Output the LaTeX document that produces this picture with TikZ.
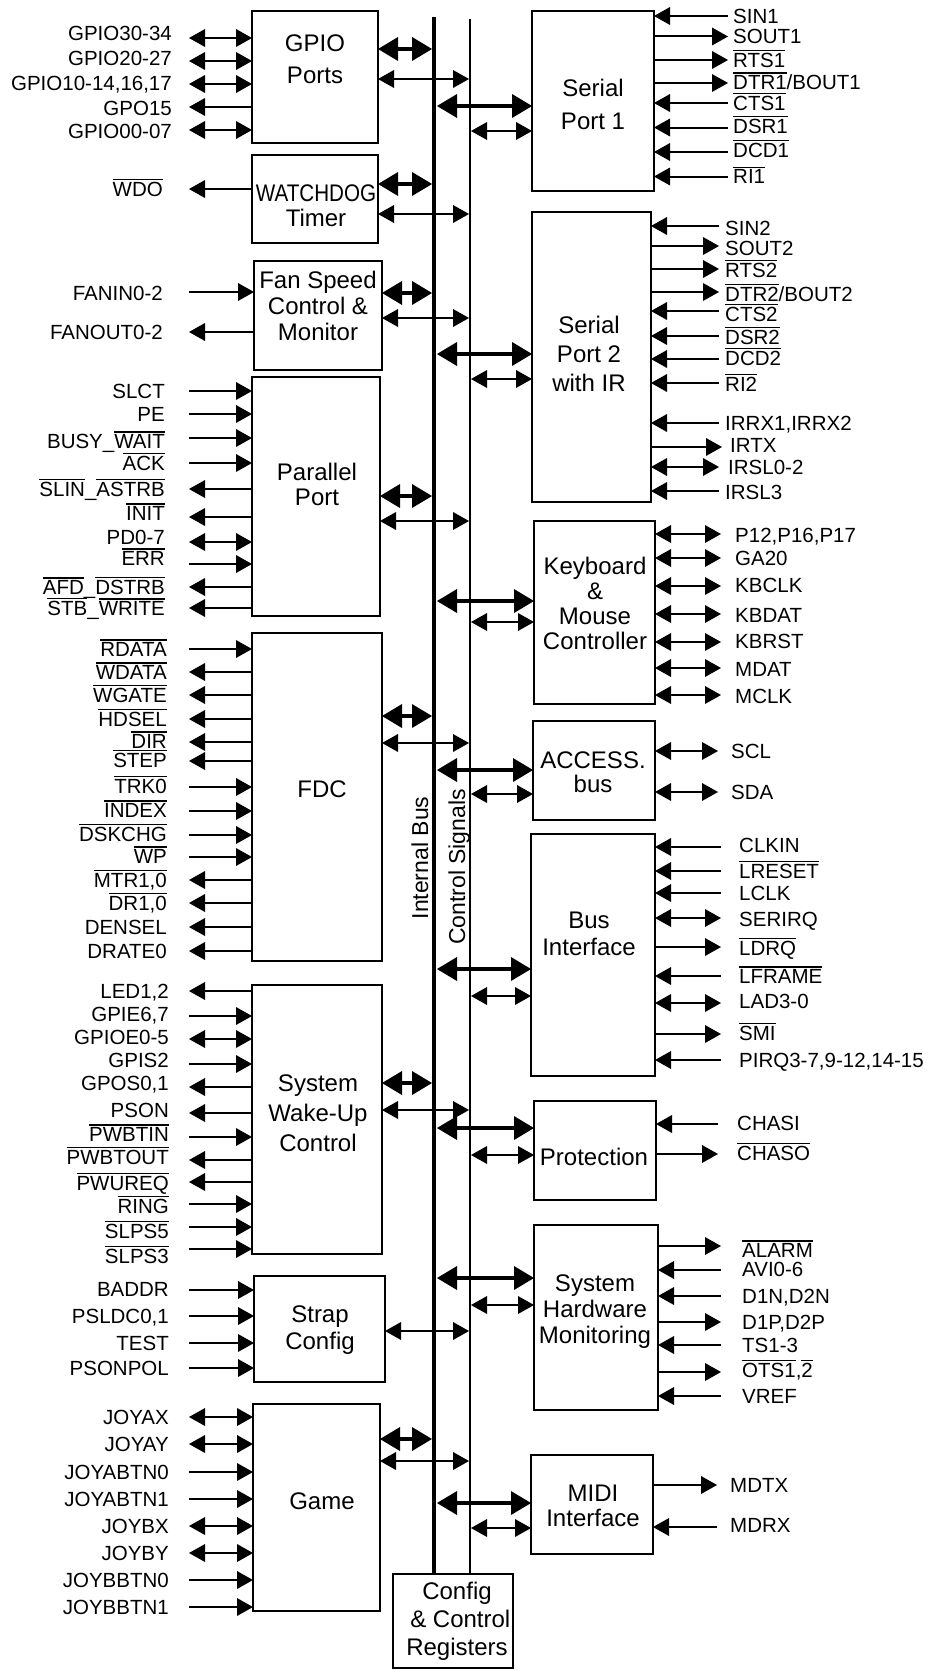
\documentclass[tikz,border=0pt]{standalone}
\usepackage{fontspec}
\setmainfont{Liberation Sans}
\usepackage{graphicx}
\usetikzlibrary{arrows.meta}
\newcommand\ovl[1]{\leavevmode\vbox{\hrule height 1.3pt\kern1.6pt\hbox{#1}}}
\newcommand\lfont{\fontsize{20.5}{24}\selectfont}
\newcommand\bfont{\fontsize{24}{30}\selectfont}
\newcommand\LX{172}
\newcommand\RX{733}
\newcommand\RE{728}
\tikzset{
  Tn/.tip={Triangle[length=16pt,width=18pt,line width=0pt]},
  Tk/.tip={Triangle[length=20pt,width=24pt,line width=0pt]},
  sig/.style={line width=2pt},
  Lin/.style={sig,-{Tn}},
  Lout/.style={sig,{Tn}-},
  Rin/.style={sig,{Tn}-},
  Rout/.style={sig,-{Tn}},
  Bi/.style={sig,{Tn}-{Tn}},
  Thk/.style={line width=4.7pt,{Tk}-{Tk}},
  blkbox/.style={draw,line width=2.5pt,inner sep=0pt,outer sep=0pt},
  btxt/.style={font=\bfont,align=center,inner sep=0pt},
  lblL/.style={font=\lfont,inner sep=0pt,anchor=base east},
  lblR/.style={font=\lfont,inner sep=0pt,anchor=base west},
  vtxt/.style={font=\fontsize{23}{26}\selectfont,inner sep=0pt,rotate=90,anchor=base},
}
\newcommand\mkblk[5]{\node[blkbox,minimum width={(#4)-(#2)},minimum height={(#5)-(#3)}] (#1) at ({((#2)+(#4))/2},{((#3)+(#5))/2}) {};}
\newcommand\Lsig[6]{%
  \node[lblL] (#1) at (\LX,{(#3)+7.3}) {#6};
  \coordinate (#1c) at (189,#4);
  \draw[#5] (#1c) -- (#1c -| #2.west);}
\newcommand\Rsig[6]{%
  \node[lblR] (#1) at (\RX,{(#3)+7.3}) {#6};
  \coordinate (#1c) at (\RE,#4);
  \draw[#5] (#1c -| #2.east) -- (#1c);}
\newcommand\Lbus[3]{%
  \draw[Thk] (#1.east |- 0,#2) -- (busL |- 0,#2);
  \draw[Bi] (#1.east |- 0,#3) -- (ctlL |- 0,#3);}
\newcommand\Rbus[3]{%
  \draw[Thk] (busR |- 0,#2) -- (#1.west |- 0,#2);
  \draw[Bi] (ctlR |- 0,#3) -- (#1.west |- 0,#3);}
\begin{document}
\begin{tikzpicture}[x=1pt,y=-1pt]
\useasboundingbox (0,0) rectangle (930,1670);
% blocks
\mkblk{gpio}{252}{11}{378}{143}
\mkblk{wdt}{252}{155}{378}{243}
\mkblk{fan}{254}{261}{382}{370}
\mkblk{par}{252}{377}{380}{616}
\mkblk{fdc}{252}{633}{382}{961}
\mkblk{wake}{252}{985}{382}{1254}
\mkblk{strap}{254}{1276}{385}{1382}
\mkblk{game}{253}{1404}{380}{1611}
\mkblk{cfg}{393}{1574}{513}{1668}
\mkblk{sp1}{532}{11}{654}{191}
\mkblk{sp2}{532}{212}{651}{502}
\mkblk{kbc}{534}{521}{655}{704}
\mkblk{acb}{533}{721}{655}{820}
\mkblk{bif}{531}{834}{655}{1076}
\mkblk{prot}{534}{1101}{656}{1200}
\mkblk{hwm}{534}{1225}{658}{1410}
\mkblk{midi}{531}{1455}{653}{1554}
% block texts
\node[btxt,font={\fontsize{24}{32}\selectfont}] (gpiot) at (315,59) {GPIO\\Ports};
\node[btxt,font={\fontsize{24}{25}\selectfont}] (wdtt) at (316,206) {\scalebox{0.86}[1]{WATCHDOG}\\Timer};
\node[btxt,font={\fontsize{24}{26}\selectfont}] (fant) at (318,306) {Fan Speed\\Control \&\\Monitor};
\node[btxt,font={\fontsize{24}{25}\selectfont}] (part) at (317,484) {Parallel\\Port};
\node[btxt] (fdct) at (322,789) {FDC};
\node[btxt] (waket) at (318,1113) {System\\Wake-Up\\Control};
\node[btxt,font={\fontsize{24}{27}\selectfont}] (strapt) at (320,1330) {Strap\\Config};
\node[btxt] (gamet) at (322,1501) {Game};
\node[btxt,font={\fontsize{24}{28}\selectfont}] (cfgt) at (457,1621) {Config\\\ \& Control\\Registers};
\node[btxt,font={\fontsize{24}{33}\selectfont}] (sp1t) at (593,104) {Serial\\Port 1};
\node[btxt,font={\fontsize{24}{29}\selectfont}] (sp2t) at (589,354) {Serial\\Port 2\\with IR};
\node[btxt,font={\fontsize{24}{25}\selectfont}] (kbct) at (595,603) {Keyboard\\\&\\Mouse\\Controller};
\node[btxt,font={\fontsize{24}{24}\selectfont}] (acbt) at (593,772) {ACCESS.\\bus};
\node[btxt,font={\fontsize{24}{27}\selectfont}] (bift) at (589,934) {Bus\\Interface};
\node[btxt] (prott) at (594,1157) {Protection};
\node[btxt,font={\fontsize{24}{26}\selectfont}] (hwmt) at (595,1312) {System\\Hardware\\Monitoring};
\node[btxt,font={\fontsize{24}{25}\selectfont}] (midit) at (593,1506) {MIDI\\Interface};
% buses
\coordinate (ibtop) at (434,17);
\coordinate (cstop) at (470,19);
\coordinate (busL) at (432,0);
\coordinate (busR) at (437,0);
\coordinate (ctlL) at (469,0);
\coordinate (ctlR) at (471,0);
\draw[line width=4.7pt] (ibtop) -- (ibtop |- cfg.north);
\draw[line width=2pt] (cstop) -- (cstop |- cfg.north);
\node[vtxt] (ibl) at (428,858) {Internal Bus};
\node[vtxt] (csl) at (465,867) {Control Signals};
% bus connections, left
\Lbus{gpio}{49}{79}
\Lbus{wdt}{184}{214}
\Lbus{fan}{293}{318}
\Lbus{par}{496}{521}
\Lbus{fdc}{716}{743}
\Lbus{wake}{1083}{1110}
\draw[Bi] (strap.east |- 0,1331) -- (ctlL |- 0,1331);
\Lbus{game}{1439}{1461}
% bus connections, right
\Rbus{sp1}{106}{131}
\Rbus{sp2}{354}{379}
\Rbus{kbc}{601}{622}
\Rbus{acb}{770}{794}
\Rbus{bif}{969}{996}
\Rbus{prot}{1128}{1155}
\Rbus{hwm}{1278}{1305}
\Rbus{midi}{1503}{1528}
% left signals
\renewcommand\LX{172}
\Lsig{g1}{gpio}{33}{38}{Bi}{GPIO30-34}
\Lsig{g2}{gpio}{58}{61}{Bi}{GPIO20-27}
\Lsig{g3}{gpio}{83}{84}{Bi}{GPIO10-14,16,17}
\Lsig{g4}{gpio}{108}{107}{Lout}{GPO15}
\Lsig{g5}{gpio}{131}{130}{Bi}{GPIO00-07}
\renewcommand\LX{163}
\Lsig{w1}{wdt}{189}{189}{Lout}{\ovl{WDO}}
\Lsig{f1}{fan}{293}{292}{Lin}{FANIN0-2}
\Lsig{f2}{fan}{332}{332}{Lout}{FANOUT0-2}
\renewcommand\LX{165}
\Lsig{p1}{par}{391}{391}{Lin}{SLCT}
\Lsig{p2}{par}{414}{414}{Lin}{PE}
\Lsig{p3}{par}{441}{438}{Lin}{BUSY\_\ovl{WAIT}}
\Lsig{p4}{par}{463}{463}{Lin}{\ovl{ACK}}
\Lsig{p5}{par}{489}{489}{Lout}{\ovl{SLIN}\_\ovl{ASTRB}}
\Lsig{p6}{par}{513}{517}{Lout}{\ovl{INIT}}
\Lsig{p7}{par}{537}{542}{Bi}{PD0-7}
\Lsig{p8}{par}{558}{564}{Lin}{\ovl{ERR}}
\Lsig{p9}{par}{587}{587}{Lout}{\ovl{AFD}\_\ovl{DSTRB}}
\Lsig{p10}{par}{608}{608}{Lout}{\ovl{STB}\_\ovl{WRITE}}
\renewcommand\LX{167}
\Lsig{d1}{fdc}{649}{649}{Lin}{\ovl{RDATA}}
\Lsig{d2}{fdc}{672}{672}{Lout}{\ovl{WDATA}}
\Lsig{d3}{fdc}{695}{695}{Lout}{\ovl{WGATE}}
\Lsig{d4}{fdc}{719}{719}{Lout}{\ovl{HDSEL}}
\Lsig{d5}{fdc}{741}{742}{Lout}{\ovl{DIR}}
\Lsig{d6}{fdc}{760}{761}{Lout}{\ovl{STEP}}
\Lsig{d7}{fdc}{786}{787}{Lin}{\ovl{TRK0}}
\Lsig{d8}{fdc}{810}{811}{Lin}{\ovl{INDEX}}
\Lsig{d9}{fdc}{834}{835}{Lin}{\ovl{DSKCHG}}
\Lsig{d10}{fdc}{856}{857}{Lin}{\ovl{WP}}
\Lsig{d11}{fdc}{880}{880}{Lout}{\ovl{MTR1,0}}
\Lsig{d12}{fdc}{903}{903}{Lout}{\ovl{DR1,0}}
\Lsig{d13}{fdc}{927}{927}{Lout}{DENSEL}
\Lsig{d14}{fdc}{951}{951}{Lout}{DRATE0}
\renewcommand\LX{169}
\Lsig{k1}{wake}{991}{991}{Lout}{LED1,2}
\Lsig{k2}{wake}{1014}{1016}{Lin}{GPIE6,7}
\Lsig{k3}{wake}{1037}{1039}{Bi}{GPIOE0-5}
\Lsig{k4}{wake}{1060}{1064}{Lin}{GPIS2}
\Lsig{k5}{wake}{1083}{1087}{Lout}{GPOS0,1}
\Lsig{k6}{wake}{1110}{1113}{Lout}{PSON}
\Lsig{k7}{wake}{1134}{1137}{Lin}{\ovl{PWBTIN}}
\Lsig{k8}{wake}{1157}{1160}{Lout}{\ovl{PWBTOUT}}
\Lsig{k9}{wake}{1183}{1182}{Lout}{\ovl{PWUREQ}}
\Lsig{k10}{wake}{1206}{1204}{Lin}{\ovl{RING}}
\Lsig{k11}{wake}{1231}{1227}{Lin}{\ovl{SLPS5}}
\Lsig{k12}{wake}{1256}{1249}{Lin}{\ovl{SLPS3}}
\Lsig{s1}{strap}{1289}{1290}{Lin}{BADDR}
\Lsig{s2}{strap}{1316}{1316}{Lin}{PSLDC0,1}
\Lsig{s3}{strap}{1343}{1343}{Lin}{TEST}
\Lsig{s4}{strap}{1368}{1368}{Lin}{PSONPOL}
\Lsig{j1}{game}{1417}{1417}{Bi}{JOYAX}
\Lsig{j2}{game}{1444}{1444}{Bi}{JOYAY}
\Lsig{j3}{game}{1472}{1472}{Lin}{JOYABTN0}
\Lsig{j4}{game}{1499}{1499}{Lin}{JOYABTN1}
\Lsig{j5}{game}{1526}{1526}{Bi}{JOYBX}
\Lsig{j6}{game}{1553}{1553}{Bi}{JOYBY}
\Lsig{j7}{game}{1580}{1580}{Lin}{JOYBBTN0}
\Lsig{j8}{game}{1607}{1607}{Lin}{JOYBBTN1}
% right signals
\renewcommand\RX{733}\renewcommand\RE{728}
\Rsig{a1}{sp1}{16}{16}{Rin}{SIN1}
\Rsig{a2}{sp1}{36.5}{36.5}{Rout}{SOUT1}
\Rsig{a3}{sp1}{60}{60}{Rout}{\ovl{RTS1}}
\Rsig{a4}{sp1}{82}{83}{Rout}{\ovl{DTR1}/BOUT1}
\Rsig{a5}{sp1}{103}{103}{Rin}{\ovl{CTS1}}
\Rsig{a6}{sp1}{126}{127.5}{Rin}{\ovl{DSR1}}
\Rsig{a7}{sp1}{150}{152}{Rin}{\ovl{DCD1}}
\Rsig{a8}{sp1}{176.5}{176.5}{Rin}{\ovl{RI1}}
\renewcommand\RX{725}\renewcommand\RE{719}
\Rsig{b1}{sp2}{228}{226}{Rin}{SIN2}
\Rsig{b2}{sp2}{248.5}{246}{Rout}{SOUT2}
\Rsig{b3}{sp2}{270}{269}{Rout}{\ovl{RTS2}}
\Rsig{b4}{sp2}{294}{292}{Rout}{\ovl{DTR2}/BOUT2}
\Rsig{b5}{sp2}{314}{311}{Rin}{\ovl{CTS2}}
\Rsig{b6}{sp2}{337}{336}{Rin}{\ovl{DSR2}}
\Rsig{b7}{sp2}{358}{359}{Rin}{\ovl{DCD2}}
\Rsig{b8}{sp2}{384}{383}{Rin}{\ovl{RI2}}
\Rsig{b9}{sp2}{423}{423}{Rin}{IRRX1,IRRX2}
\renewcommand\RX{730}\renewcommand\RE{722}
\Rsig{b10}{sp2}{445}{447}{Rout}{IRTX}
\renewcommand\RX{728}\renewcommand\RE{719}
\Rsig{b11}{sp2}{467.5}{467}{Bi}{IRSL0-2}
\renewcommand\RX{725}
\Rsig{b12}{sp2}{492}{491}{Rin}{IRSL3}
\renewcommand\RX{735}\renewcommand\RE{721}
\Rsig{c1}{kbc}{535}{534}{Bi}{P12,P16,P17}
\Rsig{c2}{kbc}{558}{558}{Bi}{GA20}
\Rsig{c3}{kbc}{585}{586}{Bi}{KBCLK}
\Rsig{c4}{kbc}{615}{614}{Bi}{KBDAT}
\Rsig{c5}{kbc}{641}{642}{Bi}{KBRST}
\Rsig{c6}{kbc}{669}{668}{Bi}{MDAT}
\Rsig{c7}{kbc}{696}{695}{Bi}{MCLK}
\renewcommand\RX{731}\renewcommand\RE{718}
\Rsig{e1}{acb}{751}{751}{Bi}{SCL}
\Rsig{e2}{acb}{792}{792}{Bi}{SDA}
\renewcommand\RX{739}\renewcommand\RE{721}
\Rsig{h1}{bif}{845}{847}{Rin}{CLKIN}
\Rsig{h2}{bif}{871}{871}{Rin}{\ovl{LRESET}}
\Rsig{h3}{bif}{893}{893}{Rin}{LCLK}
\Rsig{h4}{bif}{919}{918}{Bi}{SERIRQ}
\Rsig{h5}{bif}{948}{947}{Rout}{\ovl{LDRQ}}
\Rsig{h6}{bif}{976}{976}{Rin}{\ovl{LFRAME}}
\Rsig{h7}{bif}{1001}{1003}{Bi}{LAD3-0}
\Rsig{h8}{bif}{1033}{1034}{Rout}{\ovl{SMI}}
\Rsig{h9}{bif}{1060}{1060}{Rin}{PIRQ3-7,9-12,14-15}
\renewcommand\RX{737}\renewcommand\RE{718}
\Rsig{q1}{prot}{1123}{1124}{Rin}{CHASI}
\Rsig{q2}{prot}{1153}{1154}{Rout}{\ovl{CHASO}}
\renewcommand\RX{742}\renewcommand\RE{721}
\Rsig{m1}{hwm}{1250}{1246}{Rout}{\ovl{ALARM}}
\Rsig{m2}{hwm}{1269}{1270}{Rin}{AVI0-6}
\Rsig{m3}{hwm}{1296}{1296}{Rin}{D1N,D2N}
\Rsig{m4}{hwm}{1322}{1322}{Rout}{D1P,D2P}
\Rsig{m5}{hwm}{1345}{1345}{Rin}{TS1-3}
\Rsig{m6}{hwm}{1370}{1372}{Rout}{\ovl{OTS1},\ovl{2}}
\Rsig{m7}{hwm}{1396}{1396}{Rin}{VREF}
\renewcommand\RX{730}\renewcommand\RE{717}
\Rsig{x1}{midi}{1485}{1485}{Rout}{MDTX}
\Rsig{x2}{midi}{1525}{1527}{Rin}{MDRX}
\end{tikzpicture}
\end{document}
